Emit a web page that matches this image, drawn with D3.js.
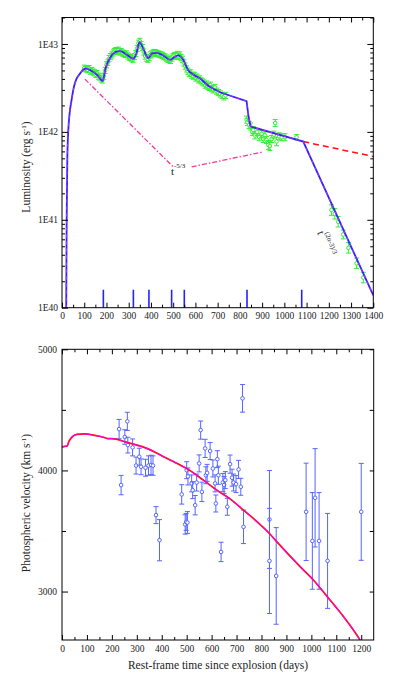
<!DOCTYPE html>
<html>
<head>
<meta charset="utf-8">
<script src="https://cdn.jsdelivr.net/npm/d3@7"></script>
<style>
  body { margin: 0; background: #fff; }
  text { font-family: "Liberation Serif", "Times New Roman", serif; fill: #222; }
</style>
</head>
<body>
<svg id="chart" width="415" height="683"></svg>
<script>
"use strict";

// ---- top panel: luminosity (units of 1e42 erg/s) ----
var lumMajorTicks = [1e40, 1e41, 1e42, 1e43];
var timeTicksTop = [0, 100, 200, 300, 400, 500, 600, 700, 800, 900, 1000, 1100, 1200, 1300, 1400];

var modelTime = [19, 21, 24, 28, 34, 43, 53, 65, 81, 95, 108, 130, 160, 183, 195, 215, 240, 260, 290, 320, 335, 348, 365, 388, 405, 426, 455, 486, 505, 523, 545, 568, 590, 620, 660, 710, 830, 838, 848, 1085, 1400];
var modelLum = [0.01, 0.1, 0.5, 1.0, 1.6, 2.3, 3.2, 4.0, 4.6, 5.1, 5.25, 5.0, 4.4, 3.8, 5.2, 6.9, 8.1, 8.3, 7.6, 6.8, 7.9, 10.5, 8.9, 6.9, 7.8, 7.9, 7.4, 6.6, 7.1, 7.4, 6.6, 5.0, 4.5, 4.07, 3.3, 2.82, 2.24, 1.55, 1.15, 0.776, 0.0138];

var denseTime = [100, 108, 115, 122, 128, 134, 140, 146, 152, 158, 164, 170, 176, 182, 188, 194, 200, 206, 212, 218, 224, 230, 236, 242, 248, 254, 260, 266, 272, 278, 284, 290, 296, 302, 308, 314, 320, 326, 332, 338, 344, 350, 356, 362, 368, 374, 380, 386, 392, 398, 404, 410, 416, 422, 428, 434, 440, 446, 452, 458, 464, 470, 476, 482, 488, 494, 500, 506, 512, 518, 524, 530, 536, 542, 548, 554, 560, 566, 572, 578, 584, 590, 596, 602, 608, 614, 620, 626, 632, 638, 644, 650, 656, 662, 668, 674, 680, 688, 696, 704, 712, 720, 728, 736];
var denseLum = [5.3, 5.2, 5.1, 5.25, 4.9, 5.0, 4.8, 4.7, 4.5, 4.6, 4.3, 4.2, 4.0, 3.9, 4.3, 5.0, 5.8, 6.2, 6.8, 7.2, 7.5, 7.9, 8.2, 8.4, 8.3, 8.5, 8.1, 8.2, 7.9, 7.8, 7.6, 7.7, 7.3, 7.1, 7.0, 6.8, 6.7, 7.2, 7.8, 8.9, 10.2, 10.7, 9.8, 9.1, 8.1, 7.3, 6.9, 6.7, 7.0, 7.5, 7.7, 7.9, 8.0, 7.9, 7.8, 7.7, 7.6, 7.5, 7.4, 7.2, 7.1, 6.9, 6.7, 6.6, 6.5, 6.9, 7.2, 7.4, 7.3, 7.6, 7.2, 7.5, 7.0, 6.7, 6.1, 5.6, 5.2, 4.9, 4.6, 4.7, 4.4, 4.3, 4.4, 4.1, 4.2, 3.9, 4.0, 3.8, 3.7, 3.6, 3.4, 3.5, 3.3, 3.2, 3.4, 3.1, 3.0, 3.2, 2.9, 2.8, 2.7, 2.6, 2.5, 2.6];
var denseErrDex = 0.035;

var lateTime = [830, 834, 842, 848, 856, 860, 868, 878, 887, 898, 905, 913, 920, 928, 935, 943, 953, 959, 965, 977, 988, 1003, 1055, 1212, 1227, 1242, 1265, 1288, 1325, 1355];
var lateLum = [1.38, 1.29, 1.20, 1.15, 1.00, 1.05, 0.91, 1.00, 0.87, 0.95, 0.83, 0.91, 0.81, 0.71, 0.69, 0.83, 0.93, 1.26, 0.78, 0.89, 0.87, 0.87, 0.87, 0.129, 0.117, 0.095, 0.068, 0.048, 0.032, 0.022];
var lateErrDex = [0.04, 0.04, 0.04, 0.04, 0.04, 0.04, 0.04, 0.04, 0.04, 0.04, 0.04, 0.04, 0.04, 0.05, 0.05, 0.04, 0.04, 0.04, 0.05, 0.04, 0.04, 0.04, 0.03, 0.06, 0.06, 0.06, 0.05, 0.06, 0.06, 0.06];

var fallTime1 = [103, 500], fallLum1 = [3.98, 0.40];
var fallTime2 = [583, 902], fallLum2 = [0.40, 0.59];
var extTime = [1085, 1400], extLum = [0.776, 0.525];
var eventTimes = [186, 321, 391, 493, 550, 832, 1078];

// ---- bottom panel: photospheric velocity ----
var velTicks = [3000, 4000, 5000];
var timeTicksBottom = [0, 100, 200, 300, 400, 500, 600, 700, 800, 900, 1000, 1100, 1200];

var velTime = [229, 237, 252, 262, 264, 283, 297, 310, 317, 335, 347, 357, 365, 377, 391, 480, 494, 498, 503, 500, 505, 520, 524, 534, 540, 550, 556, 561, 574, 577, 582, 594, 605, 614, 617, 623, 627, 638, 645, 650, 655, 663, 674, 682, 688, 698, 708, 717, 724, 728, 832, 832, 859, 979, 1004, 1015, 1031, 1065, 1200];
var velValue = [4341, 3879, 4276, 4405, 4209, 4190, 4040, 4113, 4030, 4022, 4040, 4045, 4040, 3631, 3424, 3802, 3554, 3575, 3570, 4002, 3950, 3893, 3837, 3713, 3900, 4058, 4333, 3823, 4182, 3960, 3980, 4160, 4016, 3893, 3727, 4093, 3960, 3327, 3900, 3880, 3920, 3700, 4052, 3940, 3900, 3887, 4008, 3865, 4595, 3534, 3595, 3253, 3129, 3658, 3418, 3774, 3418, 3253, 3658];
var velErr = [80, 80, 60, 75, 65, 70, 70, 70, 65, 70, 80, 80, 80, 70, 170, 80, 80, 70, 90, 70, 70, 70, 70, 80, 70, 70, 75, 80, 75, 70, 70, 70, 70, 70, 70, 70, 75, 80, 75, 70, 70, 70, 75, 70, 70, 70, 75, 70, 114, 138, 404, 434, 399, 402, 399, 406, 399, 392, 400];

var vmodTime = [0, 20, 28, 40, 60, 90, 130, 170, 185, 200, 260, 340, 420, 474, 500, 567, 621, 674, 728, 832, 862, 956, 1009, 1065, 1130, 1183, 1195];
var vmodValue = [4195, 4200, 4240, 4275, 4297, 4302, 4290, 4272, 4262, 4262, 4232, 4182, 4100, 4044, 4016, 3920, 3837, 3765, 3672, 3479, 3410, 3203, 3093, 2955, 2790, 2639, 2600];

var svg = d3.select("#chart");

function frame(x, y) {
    var r = x.range(), s = y.range();
    svg.append("rect")
        .attr("x", r[0]).attr("y", s[1])
        .attr("width", r[1] - r[0]).attr("height", s[0] - s[1])
        .attr("fill", "none").attr("stroke", "#000").attr("stroke-width", 1);
}

function hideDomain(g) {
    g.select(".domain").remove();
    g.selectAll("line").attr("stroke", "#000");
}

function errorBars(g, pts, color, capW) {
    var sel = g.selectAll(null).data(pts).enter().append("g")
        .attr("stroke", color).attr("fill", "none").attr("stroke-width", 1);
    sel.append("line").attr("x1", d => d.x).attr("x2", d => d.x).attr("y1", d => d.y0).attr("y2", d => d.y1);
    sel.append("line").attr("x1", d => d.x - capW).attr("x2", d => d.x + capW).attr("y1", d => d.y0).attr("y2", d => d.y0);
    sel.append("line").attr("x1", d => d.x - capW).attr("x2", d => d.x + capW).attr("y1", d => d.y1).attr("y2", d => d.y1);
    sel.append("circle").attr("cx", d => d.x).attr("cy", d => d.y).attr("r", 1.8).attr("fill", "#fff");
}

// ================= TOP PANEL =================
var xTop = d3.scaleLinear().domain([0, 1400]).range([62, 373.3]);
var yTop = d3.scaleLog().domain([1e40, 2e43]).range([307.7, 17.5]);
var L = v => yTop(v * 1e42);

svg.append("clipPath").attr("id", "clipTop").append("rect")
    .attr("x", 62).attr("y", 17.5).attr("width", 311.3).attr("height", 290.2);

var topG = svg.append("g").attr("clip-path", "url(#clipTop)");

// green observations
var obs = denseTime.map((t, i) => ({
    x: xTop(t), y: L(denseLum[i]),
    y0: L(denseLum[i] * Math.pow(10, denseErrDex)), y1: L(denseLum[i] / Math.pow(10, denseErrDex))
})).concat(lateTime.map((t, i) => ({
    x: xTop(t), y: L(lateLum[i]),
    y0: L(lateLum[i] * Math.pow(10, lateErrDex[i])), y1: L(lateLum[i] / Math.pow(10, lateErrDex[i]))
})));
errorBars(topG, obs, "#33ee33", 2.5);

// power law guides
var guide = d3.line().x(d => xTop(d[0])).y(d => L(d[1]));
[[fallTime1, fallLum1], [fallTime2, fallLum2]].forEach(function (p) {
    topG.append("path").datum(d3.zip(p[0], p[1])).attr("d", guide)
        .attr("fill", "none").attr("stroke", "#ff3399").attr("stroke-width", 1.3)
        .attr("stroke-dasharray", "5,2,1.5,2");
});
topG.append("path").datum(d3.zip(extTime, extLum)).attr("d", guide)
    .attr("fill", "none").attr("stroke", "#ff1111").attr("stroke-width", 1.5)
    .attr("stroke-dasharray", "6,4");

// model light curve: smooth through the bumps, straight power-law pieces later
var modelData = d3.zip(modelTime, modelLum);
var smoothPart = modelData.filter(d => d[0] <= 620);
var straightPart = modelData.filter(d => d[0] >= 620);
var smoothLine = d3.line().curve(d3.curveMonotoneX).x(d => xTop(d[0])).y(d => L(d[1]));
[[smoothPart, smoothLine], [straightPart, guide]].forEach(function (p) {
    topG.append("path").datum(p[0]).attr("d", p[1])
        .attr("fill", "none").attr("stroke", "#3322ff").attr("stroke-width", 1.8);
    topG.append("path").datum(p[0]).attr("d", p[1])
        .attr("fill", "none").attr("stroke", "#cc33ee").attr("stroke-width", 0.9)
        .attr("stroke-dasharray", "3,4");
});

// event markers
topG.selectAll(null).data(eventTimes).enter().append("line")
    .attr("x1", d => xTop(d)).attr("x2", d => xTop(d))
    .attr("y1", yTop(1e40)).attr("y2", yTop(1e40) - 18)
    .attr("stroke", "#2222ff").attr("stroke-width", 1.6);

frame(xTop, yTop);

// axes
svg.append("g").attr("transform", "translate(0," + yTop(1e40) + ")")
    .call(d3.axisBottom(xTop).tickValues(timeTicksTop).tickSize(-5).tickPadding(5).tickFormat(d3.format("d")))
    .call(hideDomain)
    .call(g => g.selectAll("text").attr("font-size", 9.5).attr("font-family", "Liberation Serif"));
svg.append("g").attr("transform", "translate(0," + yTop(1e40) + ")")
    .call(d3.axisBottom(xTop).tickValues(timeTicksTop.slice(0, -1).map(d => d + 50)).tickSize(-3).tickFormat(""))
    .call(hideDomain);
svg.append("g").attr("transform", "translate(0," + yTop(2e43) + ")")
    .call(d3.axisTop(xTop).tickValues(timeTicksTop).tickSize(-5).tickFormat(""))
    .call(hideDomain);
svg.append("g").attr("transform", "translate(0," + yTop(2e43) + ")")
    .call(d3.axisTop(xTop).tickValues(timeTicksTop.slice(0, -1).map(d => d + 50)).tickSize(-3).tickFormat(""))
    .call(hideDomain);

var minorLum = yTop.ticks().filter(d => lumMajorTicks.indexOf(d) < 0);
svg.append("g").attr("transform", "translate(" + xTop(0) + ",0)")
    .call(d3.axisLeft(yTop).tickValues(lumMajorTicks).tickSize(-6).tickPadding(4)
        .tickFormat(d => "1E" + Math.round(Math.log10(d))))
    .call(hideDomain)
    .call(g => g.selectAll("text").attr("font-size", 9.5).attr("font-family", "Liberation Serif"));
svg.append("g").attr("transform", "translate(" + xTop(0) + ",0)")
    .call(d3.axisLeft(yTop).tickValues(minorLum).tickSize(-3).tickFormat(""))
    .call(hideDomain);
svg.append("g").attr("transform", "translate(" + xTop(1400) + ",0)")
    .call(d3.axisRight(yTop).tickValues(lumMajorTicks).tickSize(-6).tickFormat(""))
    .call(hideDomain);
svg.append("g").attr("transform", "translate(" + xTop(1400) + ",0)")
    .call(d3.axisRight(yTop).tickValues(minorLum).tickSize(-3).tickFormat(""))
    .call(hideDomain);

var yLab = svg.append("text").attr("transform", "translate(30,167) rotate(-90)")
    .attr("text-anchor", "middle").attr("font-size", 11.5);
yLab.append("tspan").text("Luminosity (erg s");
yLab.append("tspan").attr("dy", -4).attr("font-size", 7).text("-1");
yLab.append("tspan").attr("dy", 4).text(")");

// annotations
var ann1 = svg.append("text").attr("x", xTop(490)).attr("y", L(0.32)).attr("font-size", 11);
ann1.append("tspan").text("t");
ann1.append("tspan").attr("dy", -7).attr("font-size", 7).text("-5/3");

var ann2 = svg.append("text")
    .attr("transform", "translate(" + xTop(1147) + "," + L(0.071) + ") rotate(68)")
    .attr("font-size", 11);
ann2.append("tspan").text("t");
ann2.append("tspan").attr("dy", -7).attr("font-size", 7).text("(2\u03b1-3)/3");

// ================= BOTTOM PANEL =================
var xBot = d3.scaleLinear().domain([0, 1250]).range([62, 373.7]);
var yBot = d3.scaleLinear().domain([2600, 5000]).range([640, 349.3]);

svg.append("clipPath").attr("id", "clipBot").append("rect")
    .attr("x", 62).attr("y", 349.3).attr("width", 311.7).attr("height", 290.7);
var bot = svg.append("g").attr("clip-path", "url(#clipBot)");

var vpts = velTime.map((t, i) => ({
    x: xBot(t), y: yBot(velValue[i]),
    y0: yBot(velValue[i] + velErr[i]), y1: yBot(velValue[i] - velErr[i])
}));
errorBars(bot, vpts, "#5566ff", 2.5);

var vLine = d3.line().curve(d3.curveMonotoneX).x(d => xBot(d[0])).y(d => yBot(d[1]));
var vData = d3.zip(vmodTime, vmodValue);
bot.append("path").datum(vData).attr("d", vLine)
    .attr("fill", "none").attr("stroke", "#ff1010").attr("stroke-width", 1.7);
bot.append("path").datum(vData).attr("d", vLine)
    .attr("fill", "none").attr("stroke", "#ff00cc").attr("stroke-width", 1.2)
    .attr("stroke-dasharray", "10,3");

frame(xBot, yBot);

var botMinorX = timeTicksBottom.map(d => d + 50).filter(d => d < 1250);
svg.append("g").attr("transform", "translate(0," + yBot(2600) + ")")
    .call(d3.axisBottom(xBot).tickValues(timeTicksBottom).tickSize(-5).tickPadding(5).tickFormat(d3.format("d")))
    .call(hideDomain)
    .call(g => g.selectAll("text").attr("font-size", 9.5).attr("font-family", "Liberation Serif"));
svg.append("g").attr("transform", "translate(0," + yBot(2600) + ")")
    .call(d3.axisBottom(xBot).tickValues(botMinorX).tickSize(-3).tickFormat(""))
    .call(hideDomain);
svg.append("g").attr("transform", "translate(0," + yBot(5000) + ")")
    .call(d3.axisTop(xBot).tickValues(timeTicksBottom).tickSize(-5).tickFormat(""))
    .call(hideDomain);
svg.append("g").attr("transform", "translate(0," + yBot(5000) + ")")
    .call(d3.axisTop(xBot).tickValues(botMinorX).tickSize(-3).tickFormat(""))
    .call(hideDomain);

var velMinor = velTicks.map(d => d + 500).filter(d => d < 5000);
svg.append("g").attr("transform", "translate(" + xBot(0) + ",0)")
    .call(d3.axisLeft(yBot).tickValues(velTicks).tickSize(-6).tickPadding(5).tickFormat(d3.format("d")))
    .call(hideDomain)
    .call(g => g.selectAll("text").attr("font-size", 9.5).attr("font-family", "Liberation Serif"));
svg.append("g").attr("transform", "translate(" + xBot(0) + ",0)")
    .call(d3.axisLeft(yBot).tickValues(velMinor).tickSize(-4).tickFormat(""))
    .call(hideDomain);
svg.append("g").attr("transform", "translate(" + xBot(1250) + ",0)")
    .call(d3.axisRight(yBot).tickValues(velTicks.concat(velMinor)).tickSize(-4).tickFormat(""))
    .call(hideDomain);

var vLab = svg.append("text").attr("transform", "translate(30,503) rotate(-90)")
    .attr("text-anchor", "middle").attr("font-size", 11.5);
vLab.append("tspan").text("Photospheric velocity (km s");
vLab.append("tspan").attr("dy", -4).attr("font-size", 7).text("-1");
vLab.append("tspan").attr("dy", 4).text(")");

svg.append("text").attr("x", 218).attr("y", 669).attr("text-anchor", "middle")
    .attr("font-size", 11.5).text("Rest-frame time since explosion (days)");
</script>
</body>
</html>
